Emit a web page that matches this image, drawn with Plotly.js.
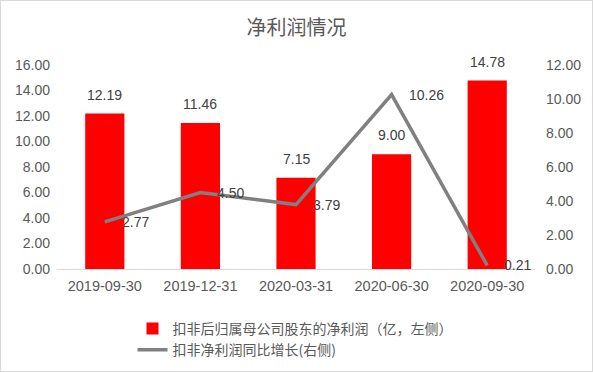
<!DOCTYPE html>
<html><head><meta charset="utf-8">
<script src="https://cdn.plot.ly/plotly-3.0.1.min.js"></script>
<style>html,body{margin:0;padding:0;background:#fff}#c{width:593px;height:372px}
#b{position:absolute;left:0;top:0;width:593px;height:372px;box-sizing:border-box;border:1px solid #d9d9d9;pointer-events:none}</style>
</head><body><div id="c"></div><div id="b"></div>
<script>
const categories = ["2019-09-30","2019-12-31","2020-03-31","2020-06-30","2020-09-30"];
const netProfit = [12.19, 11.46, 7.15, 9.00, 14.78];
const yoyGrowth = [2.77, 4.50, 3.79, 10.26, 0.21];
const leftTicks = [0,2,4,6,8,10,12,14,16];
const rightTicks = [0,2,4,6,8,10,12];
const font = "'Noto Sans CJK SC', 'Liberation Sans', sans-serif";
const numFont = "'Liberation Sans', sans-serif";
const data = [
  {type:'bar', x:categories, y:netProfit, name:'扣非后归属母公司股东的净利润（亿，左侧）',
   marker:{color:'#ff0000'}, cliponaxis:false, hoverinfo:'none'},
  {type:'scatter', mode:'lines', x:categories, y:yoyGrowth, yaxis:'y2', name:'扣非净利润同比增长(右侧)',
   line:{color:'#808080', width:3.5}, cliponaxis:false, hoverinfo:'none'}
];
const barLabels = categories.map((c,i)=>({
  x:c, y:netProfit[i], xref:'x', yref:'y', text:netProfit[i].toFixed(2), showarrow:false,
  xanchor:'center', yanchor:'bottom', yshift:9, font:{color:'#404040', size:14, family:numFont}
}));
const lineLabels = categories.map((c,i)=>({
  x:c, y:yoyGrowth[i], xref:'x', yref:'y2', text:yoyGrowth[i].toFixed(2), showarrow:false,
  xanchor:'left', yanchor:'middle', xshift:15, font:{color:'#404040', size:14, family:numFont}
}));
const layout = {
  width:593, height:372,
  margin:{l:57, r:58, t:65, b:103, autoexpand:false},
  paper_bgcolor:'#fff', plot_bgcolor:'#fff',
  title:{text:'净利润情况', x:0.5, xanchor:'center', y:0.925, yanchor:'middle', font:{family:font, size:20, color:'#595959'}},
  font:{family:font, color:'#595959'},
  bargap:0.59,
  showlegend:true,
  annotations:barLabels.concat(lineLabels),
  legend:{orientation:'v', x:0.158, xanchor:'left', y:-0.215, yanchor:'top', font:{size:14, color:'#595959', family:font}, tracegroupgap:0, itemwidth:30},
  xaxis:{type:'category', showline:true, linecolor:'#d9d9d9', linewidth:1, ticks:'', showgrid:false, automargin:false,
    ticklabelstandoff:4, tickfont:{size:14.5, color:'#595959', family:numFont}},
  yaxis:{range:[0,16], tickvals:leftTicks, tickformat:'.2f', showgrid:false, zeroline:false, showline:false, ticks:'', automargin:false,
    ticklabelstandoff:6, tickfont:{size:14, color:'#595959', family:numFont}},
  yaxis2:{range:[0,12], tickvals:rightTicks, tickformat:'.2f', overlaying:'y', side:'right', showgrid:false, zeroline:false, showline:false, ticks:'', automargin:false,
    ticklabelstandoff:10, tickfont:{size:14, color:'#595959', family:numFont}}
};
Plotly.newPlot('c', data, layout, {displayModeBar:false, staticPlot:true});
</script></body></html>
